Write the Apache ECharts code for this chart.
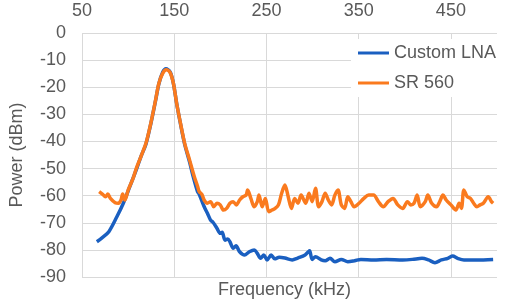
<!DOCTYPE html>
<html>
<head>
<meta charset="utf-8">
<script src="https://cdn.jsdelivr.net/npm/echarts@6/dist/echarts.min.js"></script>
<style>
  html, body { margin: 0; padding: 0; background: #fff; }
  #chart { width: 512px; height: 303px; }
</style>
</head>
<body>
<div id="chart"></div>
<script>
// tick labels
const freqTicks = [50, 150, 250, 350, 450]
const powerTicks = [0, -10, -20, -30, -40, -50, -60, -70, -80, -90]

// Custom LNA
const lnaFreq = [66.1, 72, 79.1, 87.8, 94.8, 101.8, 108.8, 114, 119.3, 124.6, 129.8, 133.3, 137.5, 141, 145.6, 149.1, 152.6, 156.1, 161.3, 166.6,
  171, 175.3, 177.1, 182.4, 186, 189.4, 192, 196.3, 199.9, 202, 205.1, 208, 210.4, 214, 217, 220.9, 226.2, 231.4, 236.7, 240.1,
  243.6, 247.2, 250.7, 255.1, 259, 263.9, 270, 277.9, 284, 291.9, 295.4, 296.8, 299.6, 303.2, 309.4, 313.7, 319, 324.2, 331.2, 338.2,
  345.6, 352.4, 366.2, 380.2, 397.7, 408.2, 418.7, 425.7, 432.7, 439.7, 446.7, 452, 457.2, 464.2, 478.2, 495.8]
const lnaPower = [-77.0, -75.5, -73.3, -67.8, -62.8, -56.7, -50.5, -45.5, -41.0, -33.5, -24.9, -18.8, -14.5, -13.2, -14.4, -18.6, -25.9, -32.3, -41.0, -47.5,
  -53.5, -58.5, -59.5, -64.0, -66.5, -69.0, -69.8, -72.0, -73.9, -73.5, -76.4, -76.0, -77.0, -79.4, -78.5, -80.7, -81.9, -80.7, -80.0, -81.3,
  -83.1, -81.9, -83.7, -81.9, -83.3, -82.7, -83.0, -83.7, -83.0, -81.9, -80.7, -80.3, -83.5, -82.5, -83.7, -84.0, -83.1, -84.4, -83.5, -84.4,
  -84.0, -83.5, -83.7, -83.5, -83.7, -83.5, -83.1, -83.7, -84.7, -83.7, -83.1, -82.3, -83.1, -83.7, -83.7, -83.5]

// SR 560
const srFreq = [68.6, 72.1, 75.5, 78, 80.8, 86, 89.6, 92.3, 94.1, 96.5, 100.1, 105.4, 108.8, 114, 119.3, 124.6, 129.8, 133.3, 137.5, 141.4,
  145.6, 149.1, 152.6, 156.1, 161.3, 166.6, 171.8, 175.3, 177.1, 180, 182.4, 185.9, 189.4, 192.9, 196.3, 199.9, 203.4, 206.8, 210.4, 213.9,
  217.3, 220.9, 224.4, 227.9, 229.6, 233.1, 236.7, 240.1, 241.9, 245.4, 248.8, 252.5, 256, 259.4, 263, 266.5, 270, 273.6, 277.1, 280.6,
  284.2, 287.6, 292.6, 296.1, 299.6, 303.2, 306.6, 310.2, 313.7, 317.1, 320.6, 324.2, 327.6, 331.2, 334.7, 338.2, 341.6, 345.1, 350.4, 355.6,
  360.9, 366.2, 371.4, 376.7, 381.9, 387.2, 392.4, 397.7, 402.9, 406.4, 410, 413.4, 416.9, 422.2, 425, 429.2, 434.4, 437.9, 441.4, 444.9,
  450.1, 455.4, 458.9, 461.4, 464.1, 467.7, 471.2, 474.7, 478.2, 481.7, 485.2, 490.5, 494, 495.8]
const srPower = [-58.5, -59.4, -60.4, -59.4, -61.0, -62.6, -62.8, -61.6, -59.4, -61.6, -57.9, -53.6, -50.0, -45.5, -40.7, -33.3, -24.7, -18.6, -14.9, -13.6,
  -14.6, -18.6, -25.9, -32.1, -40.7, -46.8, -53.0, -56.5, -58.5, -59.5, -61.6, -62.8, -62.2, -64.1, -62.8, -63.4, -65.3, -64.7, -62.8, -62.2,
  -63.4, -61.6, -60.4, -59.8, -57.9, -61.0, -64.1, -62.2, -59.8, -64.1, -61.0, -65.9, -65.3, -64.7, -63.4, -59.1, -56.1, -60.4, -64.7, -61.0,
  -62.8, -59.8, -62.8, -59.1, -62.2, -57.3, -64.1, -62.2, -59.1, -61.6, -63.4, -59.8, -57.9, -63.4, -64.7, -60.4, -62.2, -64.1, -62.8, -61.0,
  -59.8, -59.8, -62.2, -64.1, -62.2, -61.0, -63.4, -64.7, -62.2, -63.4, -62.8, -59.8, -64.1, -62.2, -59.8, -62.8, -64.1, -62.2, -59.8, -61.6,
  -63.4, -65.3, -62.8, -64.7, -57.9, -60.4, -61.0, -62.8, -64.1, -63.4, -62.8, -60.4, -62.2, -62.8]

const pairs = (xs, ys) => xs.map((x, i) => [x, ys[i]])

const textColor = '#595959'
const gridColor = '#d9d9d9'
const font = 'Liberation Sans, Arial, sans-serif'

const chart = echarts.init(document.getElementById('chart'))

chart.setOption({
  animation: false,
  textStyle: { fontFamily: font },
  grid: { left: 69, right: 15, top: 33, bottom: 26 },
  legend: {
    orient: 'vertical',
    left: 351,
    top: 39,
    padding: [5, 5, 5, 7],
    itemGap: 12,
    itemWidth: 31,
    itemHeight: 3,
    icon: 'rect',
    backgroundColor: '#fff',
    textStyle: { color: textColor, fontSize: 18, fontFamily: font },
    data: ['Custom LNA', 'SR 560']
  },
  xAxis: {
    type: 'value',
    position: 'top',
    min: 50,
    max: 500,
    axisLine: { show: false },
    axisTick: { show: false, customValues: freqTicks },
    axisLabel: {
      color: textColor, fontSize: 18, margin: 13,
      customValues: freqTicks,
      showMinLabel: true,
      hideOverlap: false
    },
    splitLine: { show: true, lineStyle: { color: gridColor } }
  },
  yAxis: {
    type: 'value',
    min: -90,
    max: 0,
    interval: 10,
    name: 'Power (dBm)',
    nameLocation: 'middle',
    nameGap: 56,
    nameTextStyle: { color: textColor, fontSize: 18 },
    axisLine: { show: false },
    axisTick: { show: false },
    axisLabel: {
      color: textColor, fontSize: 18, margin: 16,
      formatter: v => powerTicks.includes(v) ? String(v) : ''
    },
    splitLine: { show: true, lineStyle: { color: gridColor } }
  },
  series: [
    {
      name: 'Custom LNA',
      type: 'line',
      data: pairs(lnaFreq, lnaPower),
      symbol: 'none',
      smooth: 0.3,
      lineStyle: { color: '#1a5fc0', width: 3.5 },
      itemStyle: { color: '#1a5fc0' }
    },
    {
      name: 'SR 560',
      type: 'line',
      data: pairs(srFreq, srPower),
      symbol: 'none',
      smooth: 0.3,
      lineStyle: { color: '#fa7a1e', width: 3.5 },
      itemStyle: { color: '#fa7a1e' }
    }
  ]
})

// second pass: lets the axis lay out its first label again
chart.setOption({
  graphic: [
    {
      type: 'text',
      left: 218,
      top: 281,
      style: { text: 'Frequency (kHz)', fill: textColor, fontSize: 18, fontFamily: font }
    }
  ]
})
</script>
</body>
</html>
